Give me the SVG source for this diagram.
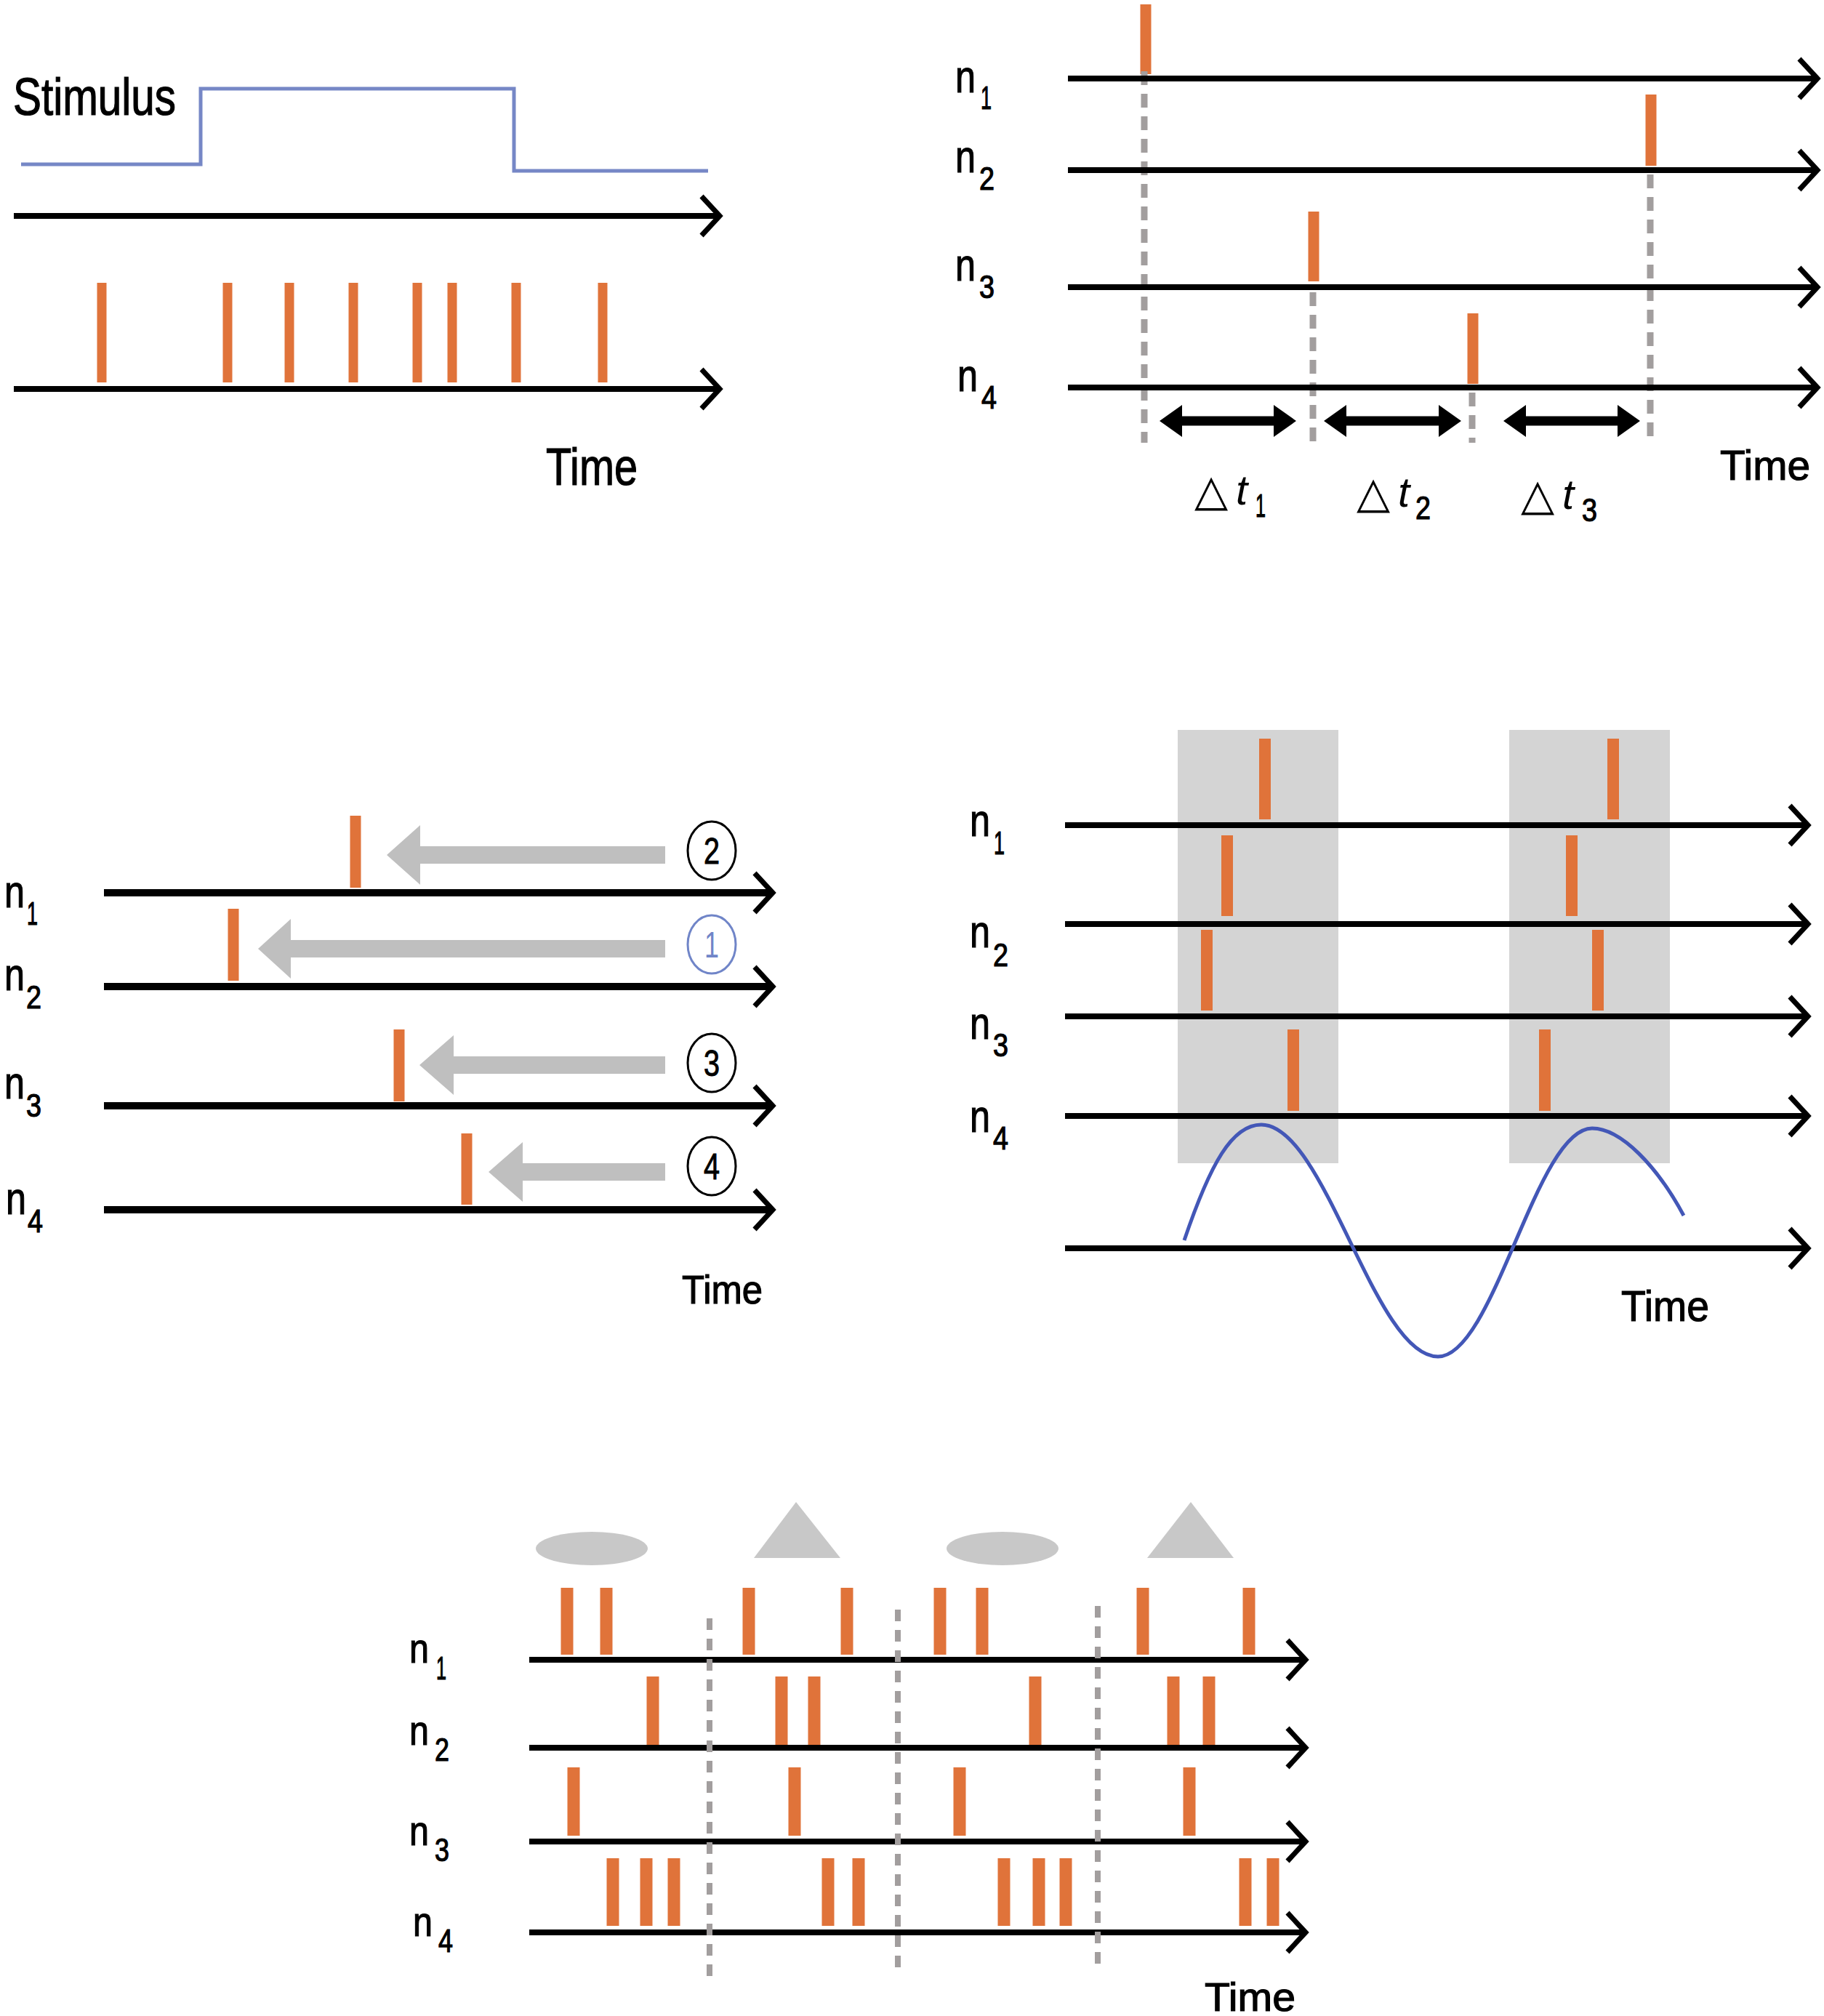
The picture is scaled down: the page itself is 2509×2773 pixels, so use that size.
<svg xmlns="http://www.w3.org/2000/svg" width="2509" height="2773" viewBox="0 0 2509 2773">
<style>
.ax{stroke:#000;stroke-width:8;fill:none;marker-end:url(#chev)}
.sp{fill:#e0733a}
.dash{stroke:#a29e9e;stroke-width:9;stroke-dasharray:19 12;fill:none}
.t{font-family:"Liberation Sans",Arial,sans-serif;fill:#000;stroke:#000;stroke-width:1.2}
.n{font-size:63px}
.s{font-size:44px}
.garr{fill:#bfbfbf}
.circ{fill:none;stroke:#000;stroke-width:3}
.dig{font-family:"Liberation Sans",Arial,sans-serif;font-size:50px;text-anchor:middle;stroke:#000;stroke-width:1}
.dt{font-family:"Liberation Sans",Arial,sans-serif;font-style:italic;font-size:58px}
.tri{font-family:"DejaVu Sans",sans-serif;font-size:60px}
</style>
<defs>
<marker id="chev" viewBox="-30 -32 40 64" markerWidth="40" markerHeight="64" refX="0" refY="0" orient="auto" markerUnits="userSpaceOnUse" overflow="visible">
<path d="M-25,-27 L0,0 L-25,27" fill="none" stroke="#000" stroke-width="7"/>
</marker>
</defs>
<rect width="2509" height="2773" fill="#fff"/>

<!-- Panel A -->
<g id="panelA">
<text class="t" x="18" y="158" font-size="72" textLength="224" lengthAdjust="spacingAndGlyphs">Stimulus</text>
<path id="stimulus" d="M29,226 H276 V122 H707 V235 H974" fill="none" stroke="#7687c6" stroke-width="5"/>
<g id="A-spikes" class="sp">
<rect x="133.5" y="389" width="13" height="137"/>
<rect x="306.5" y="389" width="13" height="137"/>
<rect x="391.5" y="389" width="13" height="137"/>
<rect x="479.5" y="389" width="13" height="137"/>
<rect x="567.5" y="389" width="13" height="137"/>
<rect x="615.5" y="389" width="13" height="137"/>
<rect x="703.5" y="389" width="13" height="137"/>
<rect x="822.5" y="389" width="13" height="137"/>
</g>
<g id="A-axes">
<path class="ax" d="M19,297 H990"/>
<path class="ax" d="M19,535 H990"/>
</g>
<text class="t" x="751" y="667" font-size="72" textLength="126" lengthAdjust="spacingAndGlyphs">Time</text>
</g>

<!-- Panel B -->
<g id="panelB">
<g id="B-labels">
<text class="t n" x="1314" y="127" textLength="28" lengthAdjust="spacingAndGlyphs">n</text><text class="t s" x="1349" y="150" textLength="15" lengthAdjust="spacingAndGlyphs">1</text>
<text class="t n" x="1314" y="237" textLength="28" lengthAdjust="spacingAndGlyphs">n</text><text class="t s" x="1347" y="261" textLength="21" lengthAdjust="spacingAndGlyphs">2</text>
<text class="t n" x="1314" y="386" textLength="28" lengthAdjust="spacingAndGlyphs">n</text><text class="t s" x="1347" y="410" textLength="21" lengthAdjust="spacingAndGlyphs">3</text>
<text class="t n" x="1317" y="538" textLength="28" lengthAdjust="spacingAndGlyphs">n</text><text class="t s" x="1350" y="562" textLength="21" lengthAdjust="spacingAndGlyphs">4</text>
</g>
<g id="B-spikes" class="sp">
<rect x="1568.5" y="6" width="15" height="96"/>
<rect x="2263.5" y="130" width="15" height="98"/>
<rect x="1799.5" y="291" width="15" height="96"/>
<rect x="2018.5" y="431" width="15" height="97"/>
</g>
<g id="B-dashes">
<path class="dash" d="M1574,98 V609"/>
<path class="dash" d="M2270,240 V609"/>
<path class="dash" d="M1806,402 V609"/>
<path class="dash" d="M2025,540 V609"/>
</g>
<g id="B-axes">
<path class="ax" d="M1469,108 H2500"/>
<path class="ax" d="M1469,234 H2500"/>
<path class="ax" d="M1469,395 H2500"/>
<path class="ax" d="M1469,533 H2500"/>
</g>
<g id="B-intervals" fill="#000">
<polygon points="1595,579 1626,557 1626,572.5 1752,572.5 1752,557 1783,579 1752,601 1752,585.5 1626,585.5 1626,601"/>
<polygon points="1821,579 1852,557 1852,572.5 1979,572.5 1979,557 2010,579 1979,601 1979,585.5 1852,585.5 1852,601"/>
<polygon points="2068,579 2099,557 2099,572.5 2225,572.5 2225,557 2256,579 2225,601 2225,585.5 2099,585.5 2099,601"/>
</g>
<g id="B-dt">
<text class="tri" x="1643" y="695">△</text><text class="dt" x="1700" y="694">t</text><text class="t s" x="1727" y="711" textLength="14" lengthAdjust="spacingAndGlyphs">1</text>
<text class="tri" x="1866" y="698">△</text><text class="dt" x="1923" y="697">t</text><text class="t s" x="1947" y="714" textLength="21" lengthAdjust="spacingAndGlyphs">2</text>
<text class="tri" x="2092" y="701">△</text><text class="dt" x="2149" y="700">t</text><text class="t s" x="2176" y="717" textLength="21" lengthAdjust="spacingAndGlyphs">3</text>
</g>
<text class="t" x="2366" y="660" font-size="58" textLength="124" lengthAdjust="spacingAndGlyphs">Time</text>
</g>

<!-- Panel C -->
<g id="panelC">
<g id="C-labels">
<text class="t n" x="6" y="1248" textLength="28" lengthAdjust="spacingAndGlyphs">n</text><text class="t s" x="37" y="1272" textLength="15" lengthAdjust="spacingAndGlyphs">1</text>
<text class="t n" x="6" y="1362" textLength="28" lengthAdjust="spacingAndGlyphs">n</text><text class="t s" x="36" y="1387" textLength="21" lengthAdjust="spacingAndGlyphs">2</text>
<text class="t n" x="6" y="1511" textLength="28" lengthAdjust="spacingAndGlyphs">n</text><text class="t s" x="36" y="1536" textLength="21" lengthAdjust="spacingAndGlyphs">3</text>
<text class="t n" x="8" y="1670" textLength="28" lengthAdjust="spacingAndGlyphs">n</text><text class="t s" x="38" y="1695" textLength="21" lengthAdjust="spacingAndGlyphs">4</text>
</g>
<g id="C-spikes" class="sp">
<rect x="481.5" y="1122" width="15" height="99"/>
<rect x="313.5" y="1250" width="15" height="99"/>
<rect x="541.5" y="1416" width="15" height="99"/>
<rect x="634.5" y="1559" width="15" height="98"/>
</g>
<g id="C-arrows" class="garr">
<polygon points="915,1164 578,1164 578,1135 532,1176 578,1217 578,1188 915,1188"/>
<polygon points="915,1293 400,1293 400,1264 355,1305 400,1346 400,1317 915,1317"/>
<polygon points="915,1453 624,1453 624,1424 577,1465 624,1506 624,1477 915,1477"/>
<polygon points="915,1600 719,1600 719,1571 672,1612 719,1653 719,1624 915,1624"/>
</g>
<g id="C-axes">
<path class="ax" d="M143,1228 H1063" style="stroke-width:10"/>
<path class="ax" d="M143,1357 H1063" style="stroke-width:10"/>
<path class="ax" d="M143,1521 H1063" style="stroke-width:10"/>
<path class="ax" d="M143,1664 H1063" style="stroke-width:10"/>
</g>
<g id="C-order">
<ellipse class="circ" cx="979" cy="1170" rx="33" ry="40"/><text class="dig" x="979" y="1188" textLength="22" lengthAdjust="spacingAndGlyphs">2</text>
<ellipse class="circ" cx="979" cy="1299" rx="33" ry="40" style="stroke:#7085c8"/><text class="dig" x="979" y="1317" fill="#7085c8" style="stroke:none" textLength="20" lengthAdjust="spacingAndGlyphs">1</text>
<ellipse class="circ" cx="979" cy="1462" rx="33" ry="40"/><text class="dig" x="979" y="1480" textLength="22" lengthAdjust="spacingAndGlyphs">3</text>
<ellipse class="circ" cx="979" cy="1604" rx="33" ry="40"/><text class="dig" x="979" y="1622" textLength="22" lengthAdjust="spacingAndGlyphs">4</text>
</g>
<text class="t" x="938" y="1793" font-size="56" textLength="111" lengthAdjust="spacingAndGlyphs">Time</text>
</g>

<!-- Panel D -->
<g id="panelD">
<g id="D-windows" fill="#d4d4d4">
<rect x="1620" y="1004" width="221" height="596"/>
<rect x="2076" y="1004" width="221" height="596"/>
</g>
<g id="D-labels">
<text class="t n" x="1334" y="1150" textLength="28" lengthAdjust="spacingAndGlyphs">n</text><text class="t s" x="1367" y="1175" textLength="15" lengthAdjust="spacingAndGlyphs">1</text>
<text class="t n" x="1334" y="1303" textLength="28" lengthAdjust="spacingAndGlyphs">n</text><text class="t s" x="1366" y="1329" textLength="21" lengthAdjust="spacingAndGlyphs">2</text>
<text class="t n" x="1334" y="1429" textLength="28" lengthAdjust="spacingAndGlyphs">n</text><text class="t s" x="1366" y="1453" textLength="21" lengthAdjust="spacingAndGlyphs">3</text>
<text class="t n" x="1334" y="1557" textLength="28" lengthAdjust="spacingAndGlyphs">n</text><text class="t s" x="1366" y="1581" textLength="21" lengthAdjust="spacingAndGlyphs">4</text>
</g>
<g id="D-spikes" class="sp">
<rect x="1732" y="1016" width="16" height="111"/>
<rect x="1680" y="1149" width="16" height="111"/>
<rect x="1652" y="1279" width="16" height="111"/>
<rect x="1771" y="1416" width="16" height="112"/>
<rect x="2211" y="1016" width="16" height="111"/>
<rect x="2154" y="1149" width="16" height="111"/>
<rect x="2190" y="1279" width="16" height="111"/>
<rect x="2117" y="1416" width="16" height="112"/>
</g>
<g id="D-axes">
<path class="ax" d="M1465,1135 H2487"/>
<path class="ax" d="M1465,1271 H2487"/>
<path class="ax" d="M1465,1398 H2487"/>
<path class="ax" d="M1465,1535 H2487"/>
<path class="ax" d="M1465,1717 H2487"/>
</g>
<path id="D-oscillation" d="M1629,1706 C1665,1600 1695,1547 1735,1547 C1823,1547 1890,1866 1978,1866 C2055,1866 2113,1552 2190,1552 C2230,1552 2280,1605 2316,1672" fill="none" stroke="#4357b7" stroke-width="5"/>
<text class="t" x="2230" y="1817" font-size="60" textLength="121" lengthAdjust="spacingAndGlyphs">Time</text>
</g>

<!-- Panel E -->
<g id="panelE">
<g id="E-stimuli" fill="#c8c8c8">
<ellipse cx="814" cy="2130" rx="77" ry="23"/>
<polygon points="1095,2066 1156,2143 1037,2143"/>
<ellipse cx="1379" cy="2130" rx="77" ry="23"/>
<polygon points="1638,2066 1697,2143 1578,2143"/>
</g>
<g id="E-labels">
<text class="t n" x="563" y="2287" style="font-size:58px" textLength="27" lengthAdjust="spacingAndGlyphs">n</text><text class="t s" x="600" y="2310" textLength="14" lengthAdjust="spacingAndGlyphs">1</text>
<text class="t n" x="563" y="2400" style="font-size:58px" textLength="27" lengthAdjust="spacingAndGlyphs">n</text><text class="t s" x="598" y="2422" textLength="20" lengthAdjust="spacingAndGlyphs">2</text>
<text class="t n" x="563" y="2538" style="font-size:58px" textLength="27" lengthAdjust="spacingAndGlyphs">n</text><text class="t s" x="598" y="2560" textLength="20" lengthAdjust="spacingAndGlyphs">3</text>
<text class="t n" x="568" y="2663" style="font-size:58px" textLength="27" lengthAdjust="spacingAndGlyphs">n</text><text class="t s" x="603" y="2685" textLength="20" lengthAdjust="spacingAndGlyphs">4</text>
</g>
<g id="E-spikes" class="sp">
<rect x="771.5" y="2184" width="17" height="92"/>
<rect x="825.5" y="2184" width="17" height="92"/>
<rect x="1021.5" y="2184" width="17" height="92"/>
<rect x="1156.5" y="2184" width="17" height="92"/>
<rect x="1284.5" y="2184" width="17" height="92"/>
<rect x="1342.5" y="2184" width="17" height="92"/>
<rect x="1563.5" y="2184" width="17" height="92"/>
<rect x="1709.5" y="2184" width="17" height="92"/>
<rect x="889.5" y="2306" width="17" height="94"/>
<rect x="1066.5" y="2306" width="17" height="94"/>
<rect x="1111.5" y="2306" width="17" height="94"/>
<rect x="1415.5" y="2306" width="17" height="94"/>
<rect x="1605.5" y="2306" width="17" height="94"/>
<rect x="1654.5" y="2306" width="17" height="94"/>
<rect x="780.5" y="2431" width="17" height="94"/>
<rect x="1084.5" y="2431" width="17" height="94"/>
<rect x="1311.5" y="2431" width="17" height="94"/>
<rect x="1627.5" y="2431" width="17" height="94"/>
<rect x="834.5" y="2556" width="17" height="93"/>
<rect x="880.5" y="2556" width="17" height="93"/>
<rect x="918.5" y="2556" width="17" height="93"/>
<rect x="1130.5" y="2556" width="17" height="93"/>
<rect x="1172.5" y="2556" width="17" height="93"/>
<rect x="1372.5" y="2556" width="17" height="93"/>
<rect x="1420.5" y="2556" width="17" height="93"/>
<rect x="1457.5" y="2556" width="17" height="93"/>
<rect x="1704.5" y="2556" width="17" height="93"/>
<rect x="1742.5" y="2556" width="17" height="93"/>
</g>
<g id="E-axes">
<path class="ax" d="M728,2283 H1796"/>
<path class="ax" d="M728,2404 H1796"/>
<path class="ax" d="M728,2533 H1796"/>
<path class="ax" d="M728,2658 H1796"/>
</g>
<g id="E-dashes">
<path class="dash" d="M976,2226 V2719" style="stroke-dasharray:16 12;stroke-width:8"/>
<path class="dash" d="M1235,2214 V2707" style="stroke-dasharray:16 12;stroke-width:8"/>
<path class="dash" d="M1510,2209 V2703" style="stroke-dasharray:16 12;stroke-width:8"/>
</g>
<text class="t" x="1657" y="2766" font-size="56" textLength="125" lengthAdjust="spacingAndGlyphs">Time</text>
</g>
</svg>
